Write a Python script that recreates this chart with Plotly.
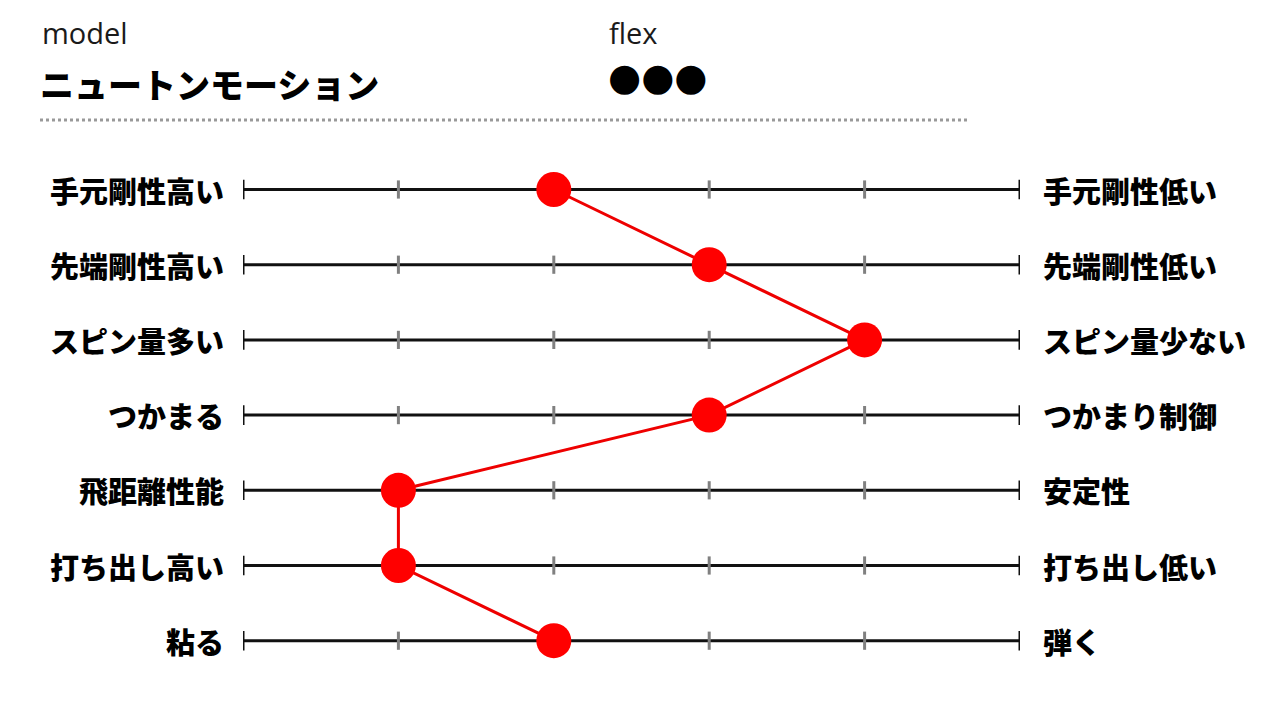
import plotly.graph_objects as go

# 左右のラベルと評価値 (0〜5 のスケール)
left_labels = ['手元剛性高い', '先端剛性高い', 'スピン量多い', 'つかまる', '飛距離性能', '打ち出し高い', '粘る']
right_labels = ['手元剛性低い', '先端剛性低い', 'スピン量少ない', 'つかまり制御', '安定性', '打ち出し低い', '弾く']
scores = [2, 3, 4, 3, 1, 1, 2]
scale_min, scale_max = 0, 5
inner_ticks = [1, 2, 3, 4]

model_name = 'ニュートンモーション'
flex_mark = '●●●'

W, H = 1280, 720
OFF = 8  # ページ余白ぶんのずれ
FONT_JP = 'Noto Sans CJK JP'
rows = list(range(len(left_labels)))

fig = go.Figure()

# 各行の横線と目盛り
for r in rows:
    fig.add_trace(go.Scatter(
        x=[scale_min, scale_max], y=[r, r], mode='lines',
        line=dict(color='#111111', width=3),
        hoverinfo='skip', showlegend=False
    ))
    fig.add_trace(go.Scatter(
        x=inner_ticks, y=[r] * len(inner_ticks), mode='markers',
        marker=dict(symbol='line-ns', size=13, line=dict(color='#808080', width=3)),
        hoverinfo='skip', showlegend=False
    ))
    fig.add_trace(go.Scatter(
        x=[scale_min, scale_max], y=[r, r], mode='markers',
        marker=dict(symbol='line-ns', size=14, line=dict(color='#111111', width=3)),
        hoverinfo='skip', showlegend=False
    ))

# 評価値の折れ線
fig.add_trace(go.Scatter(
    x=scores, y=rows, mode='lines+markers',
    line=dict(color='#ee0000', width=3),
    marker=dict(color='#ff0000', size=35),
    showlegend=False
))

# ラベル
for r in rows:
    fig.add_annotation(x=scale_min, y=r, xref='x', yref='y', text=left_labels[r],
                       xanchor='right', xshift=-17, showarrow=False,
                       font=dict(family=FONT_JP, size=29, color='#000000', weight=900))
    fig.add_annotation(x=scale_max, y=r, xref='x', yref='y', text=right_labels[r],
                       xanchor='left', xshift=21, showarrow=False,
                       font=dict(family=FONT_JP, size=29, color='#000000', weight=900))

# ヘッダー
def px(x):
    return (x - OFF) / W

def py(y):
    return 1 - (y - OFF) / H

fig.add_annotation(x=px(40), y=py(33), xref='paper', yref='paper', text='model',
                   xanchor='left', yanchor='middle', showarrow=False,
                   font=dict(family='Open Sans', size=29, color='#1a1a1a', weight=400))
fig.add_annotation(x=px(607), y=py(33), xref='paper', yref='paper', text='flex',
                   xanchor='left', yanchor='middle', showarrow=False,
                   font=dict(family='Open Sans', size=29, color='#1a1a1a', weight=400))
fig.add_annotation(x=px(38), y=py(84), xref='paper', yref='paper', text=model_name,
                   xanchor='left', yanchor='middle', showarrow=False,
                   font=dict(family=FONT_JP, size=34, color='#000000', weight=900))
fig.add_annotation(x=px(606), y=py(77), xref='paper', yref='paper', text=flex_mark,
                   xanchor='left', yanchor='middle', showarrow=False,
                   font=dict(family='DejaVu Sans', size=38, color='#000000'))

fig.add_shape(type='line', xref='paper', yref='paper',
              x0=px(40), x1=px(970), y0=py(120), y1=py(120),
              line=dict(color='#999999', width=3, dash='dot'))

# 行の位置: 1行目 y≈189px, 行間 ≈75px
row0_px, row_gap = 189.5 - OFF, 75.2
y_top = (0 - row0_px) / row_gap
y_bottom = (H - row0_px) / row_gap

fig.update_layout(
    width=W, height=H,
    margin=dict(l=0, r=0, t=0, b=0),
    paper_bgcolor='white', plot_bgcolor='white',
    xaxis=dict(range=[scale_min, scale_max], domain=[(243 - OFF) / W, (1020 - OFF) / W],
               visible=False, fixedrange=True),
    yaxis=dict(range=[y_bottom, y_top], domain=[0, 1], visible=False, fixedrange=True),
)

fig.write_html('out.html')
